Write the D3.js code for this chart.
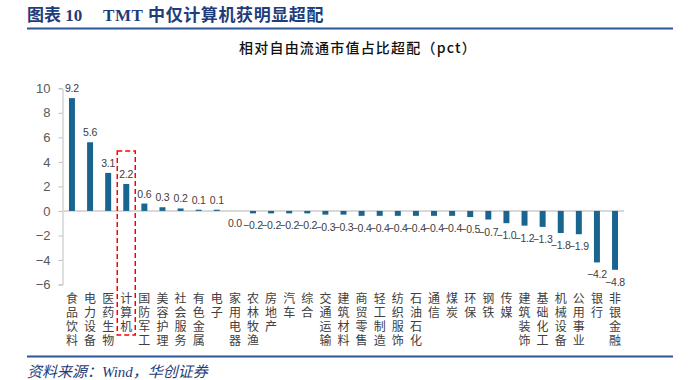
<!DOCTYPE html>
<html><head><meta charset="utf-8">
<script src="https://cdn.jsdelivr.net/npm/d3@7"></script>
<style>
html,body{margin:0;padding:0;background:#fff;}
svg{display:block;}
</style></head>
<body>
<script>
const categories = ["食品饮料","电力设备","医药生物","计算机","国防军工","美容护理","社会服务","有色金属","电子","家用电器","农林牧渔","房地产","汽车","综合","交通运输","建筑材料","商贸零售","轻工制造","纺织服饰","石油石化","通信","煤炭","环保","钢铁","传媒","建筑装饰","基础化工","机械设备","公用事业","银行","非银金融"];
const values = [9.2,5.6,3.1,2.2,0.6,0.3,0.2,0.1,0.1,0.0,-0.2,-0.2,-0.2,-0.2,-0.3,-0.3,-0.4,-0.4,-0.4,-0.4,-0.4,-0.4,-0.5,-0.7,-1.0,-1.2,-1.3,-1.8,-1.9,-4.2,-4.8];
const yTicks = [-6,-4,-2,0,2,4,6,8,10];
const highlight = ["计算机"];
const titleParts = ["图表 10", "TMT 中仅计算机获明显超配"];
const subtitleText = "相对自由流通市值占比超配（pct）";
const sourceText = "资料来源：Wind，华创证券";

const W = 689, H = 380;
const svg = d3.select("body").append("svg").attr("width", W).attr("height", H);

const x = d3.scaleBand().domain(categories).range([63, 624]).paddingInner(0.67).paddingOuter(0.33);
const y = d3.scaleLinear().domain([-6, 10]).range([284.5, 88.3]);

// title
const tt = svg.append("text").attr("y", 21)
  .attr("font-family", "'Liberation Serif','Noto Sans CJK SC',serif")
  .attr("font-weight", "bold").attr("font-size", 17).attr("fill", "#1f3d7a");
tt.append("tspan").attr("x", 27).text(titleParts[0]);
tt.append("tspan").attr("x", 103).attr("letter-spacing", 0.6).text(titleParts[1]);
svg.append("line").attr("x1", 27).attr("x2", 673).attr("y1", 28.5).attr("y2", 28.5)
  .attr("stroke", "#2e5597").attr("stroke-width", 2);

// subtitle
svg.append("text").attr("x", 358).attr("y", 53).attr("text-anchor", "middle")
  .attr("font-family", "'Noto Sans CJK SC',sans-serif").attr("font-size", 14)
  .attr("font-weight", 500).attr("letter-spacing", 1.2).attr("fill", "#111")
  .text(subtitleText);

// axis
const axis = d3.axisLeft(y).tickValues(yTicks).tickSize(4).tickPadding(8).tickFormat(d3.format("d"));
const ag = svg.append("g").attr("transform", "translate(62.5,0)").call(axis);
ag.select(".domain").attr("stroke", "#bfbfbf");
ag.selectAll(".tick line").attr("stroke", "#bfbfbf");
ag.selectAll(".tick text").attr("font-family", "'Liberation Sans',Arial,sans-serif")
  .attr("font-size", 13).attr("fill", "#595959");

// zero line
svg.append("line").attr("x1", 63).attr("x2", 624).attr("y1", y(0)).attr("y2", y(0))
  .attr("stroke", "#d9d9d9").attr("stroke-width", 2);

// bars
svg.append("g").selectAll("rect").data(values).join("rect")
  .attr("x", (d, i) => x(categories[i]))
  .attr("width", x.bandwidth())
  .attr("y", d => y(Math.max(0, d)))
  .attr("height", d => Math.abs(y(d) - y(0)))
  .attr("fill", "#19658f");

// value labels
svg.append("g").selectAll("text").data(values).join("text")
  .attr("x", (d, i) => x(categories[i]) + x.bandwidth() / 2)
  .attr("y", d => d > 0 ? y(d) - 6 : y(d) + 16)
  .attr("text-anchor", "middle")
  .attr("font-family", "'Liberation Sans',Arial,sans-serif")
  .attr("font-size", 10.5).attr("letter-spacing", -0.2).attr("fill", "#404040")
  .text(d => d3.format(".1f")(d));

// category labels vertical, one text per character
const cg = svg.append("g");
categories.forEach((c, i) => {
  const cx = x(c) + x.bandwidth() / 2;
  Array.from(c).forEach((ch, j) => {
    cg.append("text").attr("text-anchor", "middle")
      .attr("font-family", "'Noto Sans CJK SC',sans-serif")
      .attr("font-size", 12).attr("fill", "#404040")
      .attr("x", cx).attr("y", 302.5 + j * 14).text(ch);
  });
});

// highlight dashed box
highlight.forEach(h => {
  const cx = x(h) + x.bandwidth() / 2;
  svg.append("rect").attr("x", cx - 9).attr("y", 151).attr("width", 18).attr("height", 184)
    .attr("fill", "none").attr("stroke", "#ff0000").attr("stroke-width", 1.5)
    .attr("stroke-dasharray", "5,3");
});

// bottom line and source
svg.append("line").attr("x1", 27).attr("x2", 673).attr("y1", 356.5).attr("y2", 356.5)
  .attr("stroke", "#2e5597").attr("stroke-width", 2);
svg.append("text").attr("x", 27).attr("y", 376.5)
  .attr("font-family", "'Liberation Serif','Noto Sans CJK SC',serif")
  .attr("font-style", "italic").attr("font-size", 15).attr("fill", "#1f3d7a")
  .text(sourceText);
</script>
</body></html>
